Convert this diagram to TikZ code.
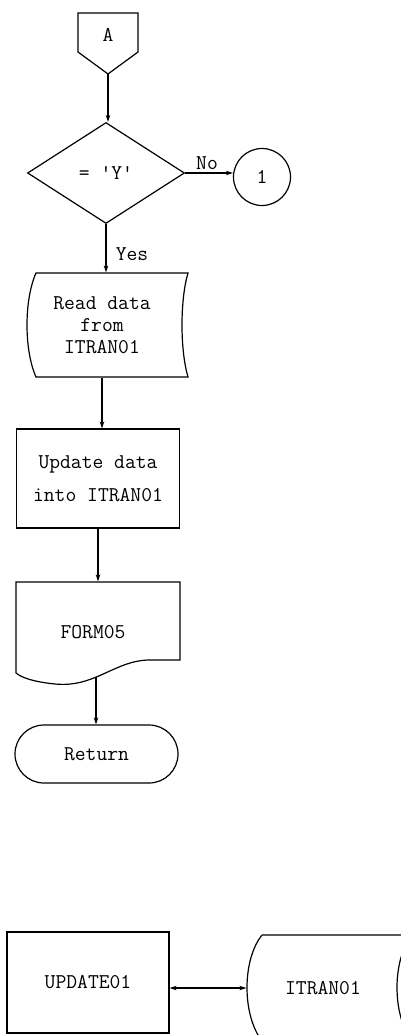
\documentclass[tikz,border=0pt]{standalone}
\usetikzlibrary{shapes.geometric,arrows.meta}
\begin{document}
\begin{tikzpicture}[x=1pt,y=-1pt,
  line width=1.2pt,
  txt/.style={font=\fontsize{21}{22}\selectfont\ttfamily},
  ghost/.style={draw=none, inner sep=0pt},
  arr/.style={-{Stealth[length=7pt,width=4.5pt]}},
  dbl/.style={{Stealth[length=7pt,width=4.5pt]}-{Stealth[length=7pt,width=4.5pt]}},
]
\clip (0,0) rectangle (401,1035);
\fill[white] (0,0) rectangle (401,1035);

% off-page connector A
\draw (78,13) -- (138,13) -- (138,52) -- (108,74) -- (78,52) -- cycle;
\node[txt] (offA) at (108,35) {A};
\coordinate (Atip) at (108,74);

% decision
\node[txt, diamond, draw, minimum width=157pt, minimum height=101pt, inner sep=0pt] (dec) at (106,173) {= \textquotesingle Y\textquotesingle};
\draw[arr] (Atip) -- (Atip |- dec.north);

% connector 1
\node[txt, circle, draw, minimum size=57pt, inner sep=0pt] (c1) at (262,177) {1};
\draw[arr] (dec.east) -- (dec.east -| c1.west);
\node[txt] (nolbl) at (207,163) {No};

% read data (stored data)
\node[txt, ghost, minimum width=150pt, minimum height=104pt, align=center] (read) at (102,325) {Read data\\from\\ITRAN01};
\draw (36,273) -- (188,273) .. controls (180,300) and (180,350) .. (188,377) -- (36,377) .. controls (24,350) and (24,300) .. (36,273) -- cycle;
\draw[arr] (dec.south) -- (dec.south |- read.north);
\node[txt] (yeslbl) at (132,254) {Yes};

% update box
\node[txt, draw, minimum width=163pt, minimum height=99pt, align=center, font=\fontsize{21}{33}\selectfont\ttfamily] (upd) at (98,478.5) {Update data\\into ITRAN01};
\draw[arr] (read.south) -- (read.south |- upd.north);

% FORM05 document
\node[ghost, minimum width=164pt, minimum height=78pt] (form) at (98,621) {};
\draw (16,582) -- (180,582) -- (180,660) -- (150,660) .. controls (115,660) and (95,688) .. (55,684) .. controls (35,682) and (22,678) .. (16,673) -- cycle;
\node[txt] (formtxt) at (93,632) {FORM05};
\coordinate (formwave) at (96,677);
\draw[arr] (upd.south) -- (upd.south |- form.north);

% Return terminal
\node[txt, draw, rounded corners=29pt, minimum width=163pt, minimum height=58pt] (ret) at (96.5,754) {Return};
\draw[arr] (formwave) -- (formwave |- ret.north);

% bottom: UPDATE01 <-> ITRAN01
\node[txt, draw, minimum width=162pt, minimum height=101pt] (u01) at (88,982.5) {\raisebox{-7pt}{UPDATE01}};
\node[txt, ghost, minimum width=152pt, minimum height=106pt] (itr) at (323,988) {\raisebox{-3pt}{ITRAN01}};
\draw (262,935) -- (430,935) (412,935) .. controls (392,960) and (392,1015) .. (412,1041) (262,1041) .. controls (242,1015) and (242,960) .. (262,935);
\draw[dbl] (itr.west -| u01.east) -- (itr.west);
\end{tikzpicture}
\end{document}
